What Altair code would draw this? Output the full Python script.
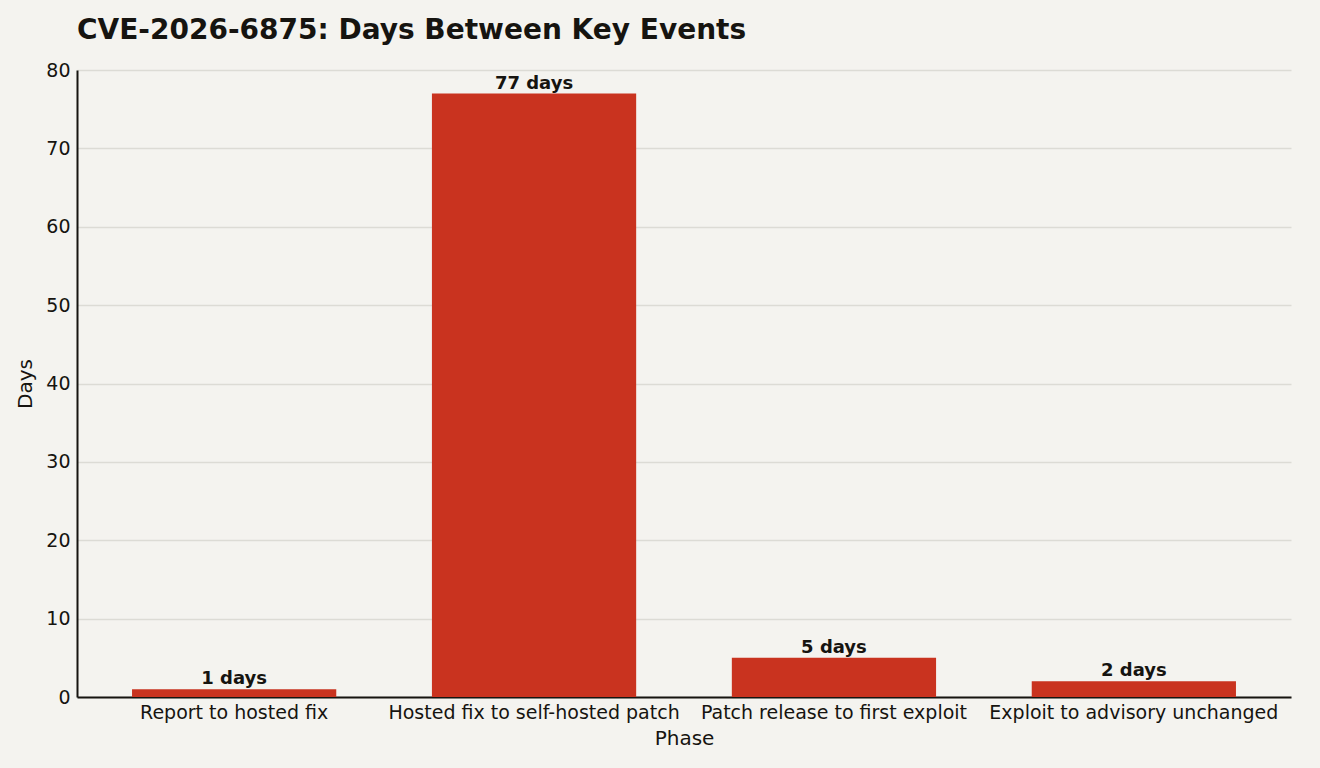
import altair as alt
import pandas as pd

phases = ["Report to hosted fix", "Hosted fix to self-hosted patch",
          "Patch release to first exploit", "Exploit to advisory unchanged"]
days = [1, 77, 5, 2]
labels = [f"{d} days" for d in days]

df = pd.DataFrame({"Phase": phases, "Days": days, "Label": labels})

FONT = "DejaVu Sans"
TXT = "#161410"

base = alt.Chart(df).encode(
    x=alt.X("Phase:N", sort=phases, title="Phase",
            scale=alt.Scale(paddingInner=0.319, paddingOuter=0.1835),
            axis=alt.Axis(labelAngle=0, labelFontSize=19, titleFontSize=20,
                          labelColor=TXT, titleColor=TXT, ticks=False,
                          labelPadding=6, titlePadding=6, labelLimit=0,
                          domainColor=TXT, domainWidth=2, grid=False,
                          labelFont=FONT, titleFont=FONT, titleFontWeight="normal")),
)

bars = base.mark_bar(color="#c9331f").encode(
    y=alt.Y("Days:Q", title="Days", scale=alt.Scale(domain=[0, 80]),
            axis=alt.Axis(values=[0, 10, 20, 30, 40, 50, 60, 70, 80],
                          labelFontSize=19, titleFontSize=20, labelColor=TXT,
                          titleColor=TXT, ticks=False, labelPadding=7,
                          titlePadding=10, domainColor=TXT, domainWidth=2,
                          gridColor="#dcdbd5", gridWidth=1.5,
                          labelFont=FONT, titleFont=FONT, titleFontWeight="normal"))
)

text = base.mark_text(baseline="bottom", dy=-1, fontSize=18, fontWeight="bold",
                      color=TXT, font=FONT).encode(
    y=alt.Y("Days:Q"), text="Label:N"
)

chart = (bars + text).properties(
    width=1214, height=627,
    title=alt.TitleParams("CVE-2026-6875: Days Between Key Events", anchor="start",
                          frame="group",
                          fontSize=28, fontWeight="bold", color=TXT, font=FONT,
                          offset=16),
    background="#f4f3ef",
    padding={"left": 77, "top": 70, "right": 29, "bottom": 71},
    autosize=alt.AutoSizeParams(type="none"),
).configure_view(stroke=None)

chart.save("out.html", embed_options={"renderer": "svg", "actions": False})
